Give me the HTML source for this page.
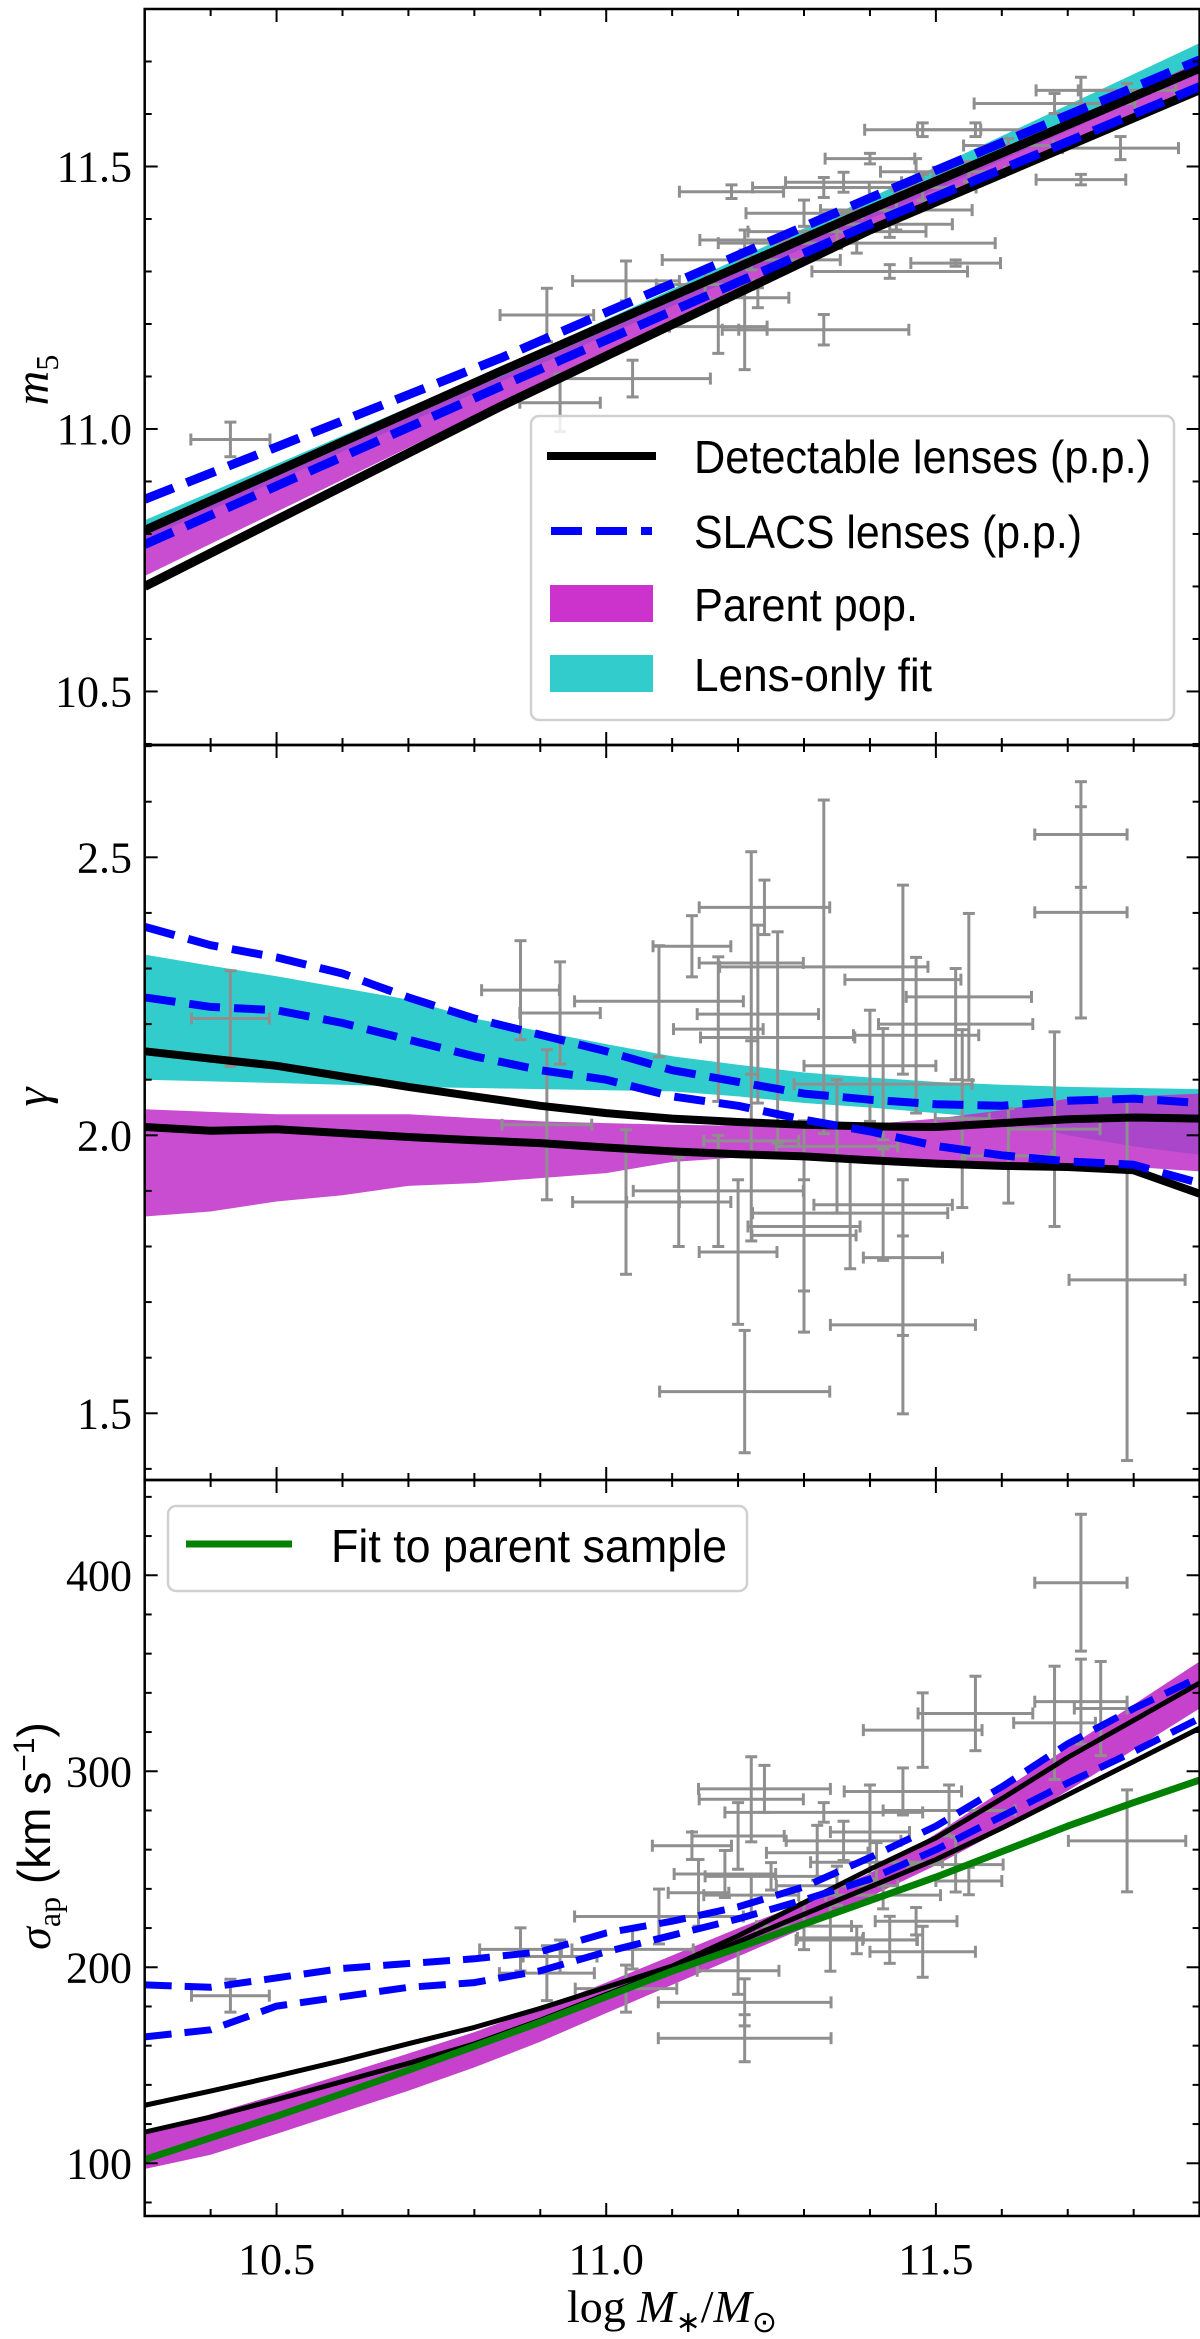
<!DOCTYPE html>
<html><head><meta charset="utf-8"><style>
body{margin:0;background:#fff;}
svg{display:block;}
</style></head><body>
<svg id="fig" width="1200" height="2339" viewBox="0 0 1200 2339" xmlns="http://www.w3.org/2000/svg"></svg>
<script>
// ---------- data ----------
const xGrid = [10.3,10.4,10.5,10.6,10.7,10.8,10.9,11.0,11.1,11.2,11.3,11.4,11.5,11.6,11.7,11.8,11.9];
const topX = [10.3,10.84,11.4,11.9];
const topBlackUp = [10.807,11.11,11.418,11.687];
const topBlackLo = [10.70,11.043,11.379,11.646];
const topBlueUp = [10.866,11.135,11.44,11.703];
const topBlueLo = [10.78,11.081,11.39,11.652];
const topCyanTop = [10.826,11.116,11.44,11.735];
const topCyanBot = [10.79,11.09,11.40,11.68];
const topMagTop = [10.81,11.10,11.41,11.70];
const topMagBot = [10.72,11.05,11.38,11.655];
const topPtX = [10.43,10.91,11.03,11.04,10.93,11.19,11.21,11.22,11.15,11.17,11.21,11.33,11.23,11.43,11.53,11.38,11.35,11.30,11.44,11.33,11.36,11.40,11.48,11.56,11.61,11.78,11.72,11.68,11.72,11.79,11.48,11.47,11.55,11.43];
const topPtY = [10.98,11.217,11.282,11.096,11.05,11.452,11.36,11.322,11.275,11.195,11.189,11.189,11.25,11.30,11.316,11.354,11.376,11.411,11.417,11.46,11.47,11.515,11.57,11.57,11.54,11.535,11.475,11.62,11.645,11.645,11.46,11.49,11.49,11.39];
const topPtDX = [0.06,0.071,0.081,0.118,0.061,0.079,0.068,0.135,0.074,0.074,0.034,0.129,0.047,0.118,0.068,0.21,0.135,0.088,0.115,0.108,0.088,0.068,0.088,0.088,0.068,0.088,0.068,0.122,0.068,0.074,0.081,0.054,0.054,0.095];
const topPtDY = [0.033,0.051,0.038,0.035,0.055,0.013,0.019,0.019,0.025,0.051,0.076,0.029,0.019,0.013,0.006,0.019,0.032,0.025,0.038,0.019,0.019,0.010,0.013,0.013,0.013,0.022,0.010,0.019,0.025,0.013,0.025,0.025,0.019,0.025];

const midBlueUp = [2.375,2.342,2.32,2.291,2.248,2.21,2.181,2.151,2.117,2.096,2.075,2.064,2.056,2.053,2.062,2.066,2.058];
const midBlueLo = [2.248,2.231,2.225,2.202,2.172,2.142,2.117,2.1,2.07,2.053,2.028,2.007,1.981,1.964,1.953,1.947,1.914];
const midBlackUp = [2.151,2.138,2.125,2.106,2.087,2.07,2.053,2.04,2.03,2.024,2.019,2.016,2.015,2.022,2.029,2.032,2.03];
const midBlackLo = [2.015,2.008,2.011,2.004,1.997,1.991,1.986,1.978,1.971,1.966,1.962,1.955,1.949,1.945,1.943,1.937,1.895];
const midCyanTop = [2.325,2.305,2.286,2.265,2.244,2.21,2.187,2.164,2.142,2.127,2.113,2.104,2.096,2.091,2.087,2.085,2.083];
const midCyanBot = [2.10,2.097,2.094,2.091,2.087,2.085,2.083,2.081,2.079,2.07,2.058,2.05,2.04,2.03,2.0,1.98,1.965];
const midMagTop = [2.047,2.042,2.038,2.038,2.038,2.031,2.025,2.022,2.019,2.017,2.015,2.02,2.03,2.045,2.066,2.07,2.075];
const midMagBot = [1.854,1.863,1.881,1.892,1.909,1.914,1.923,1.932,1.952,1.96,1.96,1.96,1.955,1.947,1.944,1.943,1.935];
const midPtX = [10.43,10.87,10.93,10.91,11.03,11.08,11.13,11.24,11.33,11.22,11.23,11.17,11.26,11.45,11.53,11.55,11.47,11.40,11.42,11.72,11.72,11.68,11.79,11.21,11.30,11.45,11.20,11.30,11.45,11.37,11.42,11.17,11.11,11.35,11.61,11.54,11.22];
const midPtY = [2.210,2.261,2.220,2.019,1.880,2.241,2.340,2.410,2.303,2.310,2.218,2.191,2.176,2.280,2.20,2.249,2.18,2.125,2.092,2.541,2.401,2.011,1.740,1.539,1.836,1.659,1.790,1.820,1.780,1.860,1.875,1.900,1.880,1.980,1.963,2.03,1.990];
const midPtDX = [0.059,0.059,0.061,0.068,0.081,0.128,0.059,0.099,0.158,0.079,0.092,0.068,0.117,0.088,0.117,0.095,0.095,0.10,0.135,0.070,0.070,0.069,0.088,0.129,0.085,0.110,0.059,0.079,0.060,0.148,0.105,0.129,0.079,0.092,0.066,0.041,0.072];
const midPtDY = [0.086,0.089,0.092,0.135,0.130,0.10,0.055,0.049,0.30,0.20,0.16,0.13,0.19,0.17,0.10,0.15,0.14,0.10,0.10,0.095,0.19,0.175,0.325,0.11,0.19,0.16,0.13,0.10,0.14,0.10,0.10,0.10,0.08,0.12,0.085,0.16,0.18];

const botBlackUp = [129.6,136.8,144.5,152.5,161,169.3,179,189.8,200.6,216,233,250,266,286,307,326,345];
const botBlackLo = [115.9,123.6,132.5,141.7,151,160.9,173,186.2,199,213,227,241,255,271,288,305,322];
const botGreen = [101.9,113,124,135.6,147.5,159.7,172,185,198,210,222,234,246,259,272,284,295.5];
const botMagTop = [115.2,125,135,145.3,156,166.9,179,192.2,206,219.9,233,248,268,290,312,334,356];
const botMagBot = [97.1,104.3,115,126,137,148.9,162,176.6,191,205.5,220,236,252,270,290,311,332];
const botBlueUp = [191,189.8,194.6,199.4,201.9,204.3,207.9,217.5,223.5,230.8,241,256,272,292,314,332,348];
const botBlueLo = [164.5,168.1,180.2,185,189.8,192.2,198.2,207.9,216.3,224.7,234.4,245,260,277,294,310,327];
const botPtX = [10.43,11.72,11.68,11.72,11.79,11.56,11.48,11.75,11.24,11.22,11.45,11.52,11.33,11.13,11.20,11.40,11.36,11.32,11.53,11.41,11.18,11.25,11.35,11.55,11.08,11.14,11.22,11.42,11.30,11.47,11.38,11.48,11.43,11.34,10.87,10.93,10.91,11.04,11.03,11.20,11.21,11.21];
const botPtY = [185.5,396.2,324.7,335.5,264.5,329.5,321,332,291,285.7,289.7,280,279,262,267,269,264.5,258.4,252.4,253.6,247.6,246.4,241.6,244,225.9,238,236.8,236.8,221,223.5,213.9,207.9,214,215,209.1,205.5,197,209.1,189.1,198.2,182.1,163.8];
const botPtDX = [0.059,0.070,0.062,0.07,0.089,0.087,0.09,0.04,0.10,0.079,0.089,0.10,0.15,0.06,0.07,0.06,0.087,0.077,0.072,0.10,0.077,0.10,0.092,0.05,0.128,0.046,0.072,0.087,0.072,0.062,0.092,0.08,0.041,0.05,0.062,0.056,0.072,0.092,0.077,0.062,0.131,0.131];
const botPtDY = [8.4,34.9,28.9,21.7,26,19,19,24,12,21.7,12,13,5,7,17,24,10,14,14,10,12,7,10,7,14,17,10,7,12,7,7,13,12,17,11,8.4,14,10,12,12,12,12];

const xTickLabels = ["10.5","11.0","11.5"];
const topTickLabels = ["10.5","11.0","11.5"];
const midTickLabels = ["1.5","2.0","2.5"];
const botTickLabels = ["100","200","300","400"];

// ---------- layout ----------
const NS = "http://www.w3.org/2000/svg";
const svg = document.getElementById('fig');
const X0 = 144.7, X1 = 1199.6, XMIN = 10.3, XMAX = 11.9;
function sx(v){ return X0 + (v - XMIN) / (XMAX - XMIN) * (X1 - X0); }
const panels = {
  top: {y0:9, y1:745, vmin:10.398, vmax:11.80},
  mid: {y0:745, y1:1480, vmin:1.380, vmax:2.702},
  bot: {y0:1480, y1:2216, vmin:73.1, vmax:448.6}
};
function syF(p){ return v => p.y1 - (v - p.vmin) / (p.vmax - p.vmin) * (p.y1 - p.y0); }

function mk(tag, attrs, parent){
  const e = document.createElementNS(NS, tag);
  for (const k in attrs) e.setAttribute(k, attrs[k]);
  (parent || svg).appendChild(e);
  return e;
}
function clipFor(id, p){
  const cp = mk('clipPath', {id:id});
  mk('rect', {x:X0, y:p.y0, width:X1-X0, height:p.y1-p.y0}, cp);
}
function linePath(xs, ys, sy){
  return xs.map((x,i)=> (i?'L':'M') + sx(x).toFixed(1) + ',' + sy(ys[i]).toFixed(1)).join(' ');
}
function bandPath(xs, top, bot, sy){
  let d = xs.map((x,i)=> (i?'L':'M') + sx(x).toFixed(1) + ',' + sy(top[i]).toFixed(1)).join(' ');
  for (let i = xs.length-1; i >= 0; i--) d += ' L' + sx(xs[i]).toFixed(1) + ',' + sy(bot[i]).toFixed(1);
  return d + ' Z';
}
function drawBand(g, xs, top, bot, sy, fill, op, name){
  const e = mk('path', {d:bandPath(xs, top, bot, sy), fill:fill, 'fill-opacity':op, stroke:'none'}, g);
  
  
}
function drawLine(g, xs, ys, sy, color, w, dash, name){
  const a = {d:linePath(xs, ys, sy), fill:'none', stroke:color, 'stroke-width':w, 'stroke-linejoin':'round'};
  if (dash) a['stroke-dasharray'] = dash;
  const e = mk('path', a, g);
  
  
}
function drawPoints(g, px, py, dx, dy, sy, name){
  for (let i = 0; i < px.length; i++){
    const pg = mk('g', {stroke:'#8f8f8f', 'stroke-width':3, fill:'none'}, g);
    
    
    const cx = sx(px[i]), cy = sy(py[i]);
    const xl = sx(px[i]-dx[i]), xr = sx(px[i]+dx[i]);
    const yt = sy(py[i]+dy[i]), yb = sy(py[i]-dy[i]);
    mk('line', {x1:xl, y1:cy, x2:xr, y2:cy}, pg);
    mk('line', {x1:cx, y1:yt, x2:cx, y2:yb}, pg);
    mk('line', {x1:xl, y1:cy-6, x2:xl, y2:cy+6}, pg);
    mk('line', {x1:xr, y1:cy-6, x2:xr, y2:cy+6}, pg);
    mk('line', {x1:cx-6, y1:yt, x2:cx+6, y2:yt}, pg);
    mk('line', {x1:cx-6, y1:yb, x2:cx+6, y2:yb}, pg);
  }
}
function drawAxes(p, sy, majors, labels, minorStep, name){
  const g = mk('g', {stroke:'#000', 'stroke-width':2});
  
  
  for (let v = 10.3; v <= 11.9001; v += 0.1){
    const isMaj = Math.abs(v*2 - Math.round(v*2)) < 1e-6;
    const L = isMaj ? 13 : 7, x = sx(v);
    mk('line', {x1:x, y1:p.y1, x2:x, y2:p.y1-L}, g);
    mk('line', {x1:x, y1:p.y0, x2:x, y2:p.y0+L}, g);
  }
  const start = Math.ceil(p.vmin / minorStep - 1e-6) * minorStep;
  for (let v = start; v <= p.vmax; v += minorStep){
    const isMaj = majors.some(m => Math.abs(m - v) < minorStep*0.01);
    const L = isMaj ? 13 : 7, y = sy(v);
    mk('line', {x1:X0, y1:y, x2:X0+L, y2:y}, g);
    mk('line', {x1:X1, y1:y, x2:X1-L, y2:y}, g);
  }
  mk('rect', {x:X0, y:p.y0, width:X1-X0, height:p.y1-p.y0, fill:'none', 'stroke-width':2.5}, g);
  majors.forEach((m,i)=>{
    const t = mk('text', {x:132, y:sy(m)+15, 'text-anchor':'end', 'font-family':'Liberation Serif, serif', 'font-size':44, fill:'#000', stroke:'none'});
    t.textContent = labels[i];
    
    
  });
}

// ---------- TOP ----------
(function(){
  const p = panels.top, sy = syF(p);
  clipFor('cTop', p);
  const g = mk('g', {'clip-path':'url(#cTop)'});
  
  
  drawBand(g, topX, topCyanTop, topCyanBot, sy, '#33cccc', 1, 'top-lens-only-band');
  drawBand(g, topX, topMagTop, topMagBot, sy, '#c02ec8', 0.85, 'top-parent-band');
  drawPoints(g, topPtX, topPtY, topPtDX, topPtDY, sy, 'top-data-point');
  drawLine(g, topX, topBlackUp, sy, '#000', 9, null, 'top-detectable-upper');
  drawLine(g, topX, topBlackLo, sy, '#000', 9, null, 'top-detectable-lower');
  drawLine(g, topX, topBlueUp, sy, '#0000ff', 9, '31 14', 'top-slacs-upper');
  drawLine(g, topX, topBlueLo, sy, '#0000ff', 9, '31 14', 'top-slacs-lower');
  drawAxes(p, sy, [10.5,11.0,11.5], topTickLabels, 0.1, 'top');
})();
// ---------- MIDDLE ----------
(function(){
  const p = panels.mid, sy = syF(p);
  clipFor('cMid', p);
  const g = mk('g', {'clip-path':'url(#cMid)'});
  
  
  drawBand(g, xGrid, midCyanTop, midCyanBot, sy, '#33cccc', 1, 'mid-lens-only-band');
  drawBand(g, xGrid, midMagTop, midMagBot, sy, '#c02ec8', 0.85, 'mid-parent-band');
  drawPoints(g, midPtX, midPtY, midPtDX, midPtDY, sy, 'mid-data-point');
  drawLine(g, xGrid, midBlackUp, sy, '#000', 8, null, 'mid-detectable-upper');
  drawLine(g, xGrid, midBlackLo, sy, '#000', 8, null, 'mid-detectable-lower');
  drawLine(g, xGrid, midBlueUp, sy, '#0000ff', 8, '31 14', 'mid-slacs-upper');
  drawLine(g, xGrid, midBlueLo, sy, '#0000ff', 8, '31 14', 'mid-slacs-lower');
  drawAxes(p, sy, [1.5,2.0,2.5], midTickLabels, 0.1, 'mid');
})();
// ---------- BOTTOM ----------
(function(){
  const p = panels.bot, sy = syF(p);
  clipFor('cBot', p);
  const g = mk('g', {'clip-path':'url(#cBot)'});
  
  
  drawBand(g, xGrid, botMagTop, botMagBot, sy, '#c02ec8', 0.9, 'bot-parent-band');
  drawPoints(g, botPtX, botPtY, botPtDX, botPtDY, sy, 'bot-data-point');
  drawLine(g, xGrid, botBlackUp, sy, '#000', 5, null, 'bot-detectable-upper');
  drawLine(g, xGrid, botBlackLo, sy, '#000', 5, null, 'bot-detectable-lower');
  drawLine(g, xGrid, botGreen, sy, '#008000', 7, null, 'bot-parent-fit');
  drawLine(g, xGrid, botBlueUp, sy, '#0000ff', 7, '27 13', 'bot-slacs-upper');
  drawLine(g, xGrid, botBlueLo, sy, '#0000ff', 7, '27 13', 'bot-slacs-lower');
  drawAxes(p, sy, [100,200,300,400], botTickLabels, 20, 'bot');
  [10.5,11.0,11.5].forEach((v,i)=>{
    const t = mk('text', {x:sx(v), y:2274, 'text-anchor':'middle', 'font-family':'Liberation Serif, serif', 'font-size':44, fill:'#000'});
    t.textContent = xTickLabels[i];
    
    
  });
})();
</script>
<div style="position:absolute;left:0;top:0;width:1200px;height:2339px;pointer-events:none;">
<svg width="1200" height="2339" style="position:absolute;left:0;top:0">
  <text transform="translate(48,380) rotate(-90)" text-anchor="middle" font-family="Liberation Serif, serif" font-style="italic" font-size="48">m<tspan font-size="32" dy="10" font-style="normal">5</tspan></text>
  <text transform="translate(48,1097) rotate(-90)" text-anchor="middle" font-family="Liberation Serif, serif" font-style="italic" font-size="48">γ</text>
  <text transform="translate(50,1836) rotate(-90)" text-anchor="middle" font-family="Liberation Serif, serif" font-size="46"><tspan font-style="italic">σ</tspan><tspan font-size="32" dy="10">ap</tspan><tspan dy="-10" font-family="Liberation Sans, sans-serif"> (km s</tspan><tspan font-size="30" dy="-16" font-family="Liberation Sans, sans-serif">−1</tspan><tspan dy="16" font-family="Liberation Sans, sans-serif">)</tspan></text>
  <text x="672" y="2322" text-anchor="middle" font-family="Liberation Serif, serif" font-size="46">log <tspan font-style="italic">M</tspan><tspan font-size="30" dy="10">∗</tspan><tspan dy="-10">/</tspan><tspan font-style="italic">M</tspan><tspan font-size="30" dy="10">⊙</tspan></text>
  <g>
    <rect x="531" y="416" width="643" height="304" rx="8" fill="#fff" fill-opacity="0.85" stroke="#d0d0d0" stroke-width="2.5"/>
    <line x1="547" y1="456" x2="656" y2="456" stroke="#000" stroke-width="8"/>
    <text x="694" y="473" font-family="Liberation Sans, sans-serif" font-size="46" textLength="457" lengthAdjust="spacingAndGlyphs">Detectable lenses (p.p.)</text>
    <line x1="551" y1="531" x2="652" y2="531" stroke="#0000ff" stroke-width="8" stroke-dasharray="31 14"/>
    <text x="694" y="548" font-family="Liberation Sans, sans-serif" font-size="46" textLength="388" lengthAdjust="spacingAndGlyphs">SLACS lenses (p.p.)</text>
    <rect x="550" y="585" width="103" height="37" fill="#cc33cc"/>
    <text x="694" y="621" font-family="Liberation Sans, sans-serif" font-size="46" textLength="224" lengthAdjust="spacingAndGlyphs">Parent pop.</text>
    <rect x="550" y="655" width="103" height="37" fill="#33cccc"/>
    <text x="694" y="691" font-family="Liberation Sans, sans-serif" font-size="46" textLength="238" lengthAdjust="spacingAndGlyphs">Lens-only fit</text>
  </g>
  <g>
    <rect x="168" y="1506" width="579" height="85" rx="8" fill="#fff" fill-opacity="0.85" stroke="#d0d0d0" stroke-width="2.5"/>
    <line x1="186" y1="1544" x2="292" y2="1544" stroke="#008000" stroke-width="7"/>
    <text x="331" y="1562" font-family="Liberation Sans, sans-serif" font-size="46" textLength="396" lengthAdjust="spacingAndGlyphs">Fit to parent sample</text>
  </g>
</svg>
</div>
</body></html>
